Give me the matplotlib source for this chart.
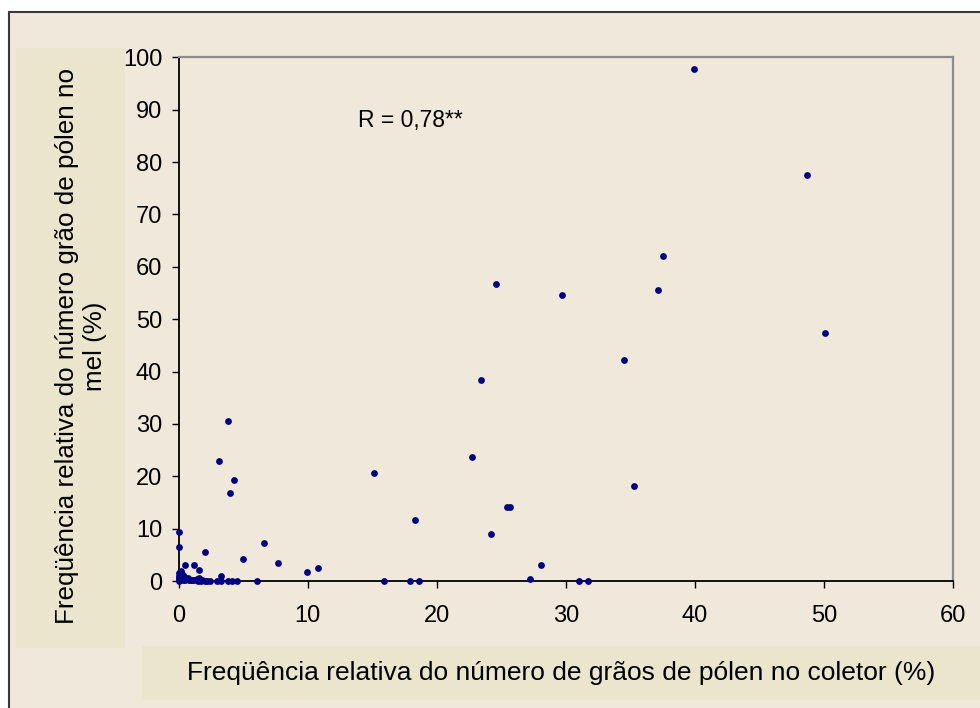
import matplotlib
matplotlib.use("Agg")
import matplotlib.pyplot as plt
from matplotlib.patches import Rectangle

plt.rcParams['font.family'] = ['Liberation Sans', 'DejaVu Sans']

# Relative pollen frequency in the collector (x) and in the honey (y), in %
coletor = [39.95, 48.7, 37.5, 24.6, 29.7, 37.15, 50.1, 34.5, 23.4, 3.8,
           3.1, 22.7, 15.15, 4.3, 35.3, 4.0, 25.4, 25.7, 18.3, 0.0,
           24.2, 6.6, 0.0, 2.05, 5.0, 7.65, 0.5, 1.2, 28.1, 10.8,
           1.55, 9.9, 3.3, 27.2,
           2.93, 3.24, 3.8, 4.15, 4.5, 6.07, 15.9, 17.95, 18.65, 31.0, 31.75,
           0.0, 0.0, 0.0, 0.0, 0.1, 0.15, 0.2, 0.3, 0.4, 0.5,
           0.6, 0.7, 0.8, 0.9, 1.0, 1.2, 1.4, 1.5, 1.6, 1.7,
           1.8, 2.0, 2.2, 2.4, 0.05, 0.1, 0.2, 0.3, 0.5, 0.7]
mel = [97.8, 77.6, 62.1, 56.8, 54.7, 55.6, 47.4, 42.2, 38.4, 30.6,
       22.9, 23.7, 20.6, 19.3, 18.1, 16.8, 14.1, 14.1, 11.6, 9.4,
       9.0, 7.3, 6.4, 5.5, 4.2, 3.4, 3.0, 3.0, 3.0, 2.5,
       2.1, 1.7, 0.9, 0.4,
       0.0, 0.0, 0.0, 0.0, 0.0, 0.0, 0.0, 0.0, 0.0, 0.0, 0.0,
       0.0, 0.5, 1.0, 1.5, 1.8, 2.0, 1.6, 1.2, 0.8, 0.6,
       0.4, 0.3, 0.2, 0.1, 0.2, 0.1, 0.3, 0.0, 0.5, 0.0,
       0.1, 0.0, 0.0, 0.0, 0.3, 0.8, 0.4, 0.1, 0.1, 0.5]

x_ticks = [0, 10, 20, 30, 40, 50, 60]
y_ticks = [0, 10, 20, 30, 40, 50, 60, 70, 80, 90, 100]
correlacao = "R = 0,78**"
rotulo_x = "Freqüência relativa do número de grãos de pólen no coletor (%)"
rotulo_y = "Freqüência relativa do número grão de pólen no\nmel (%)"

BG = '#F0E8DA'
BOX = '#EBE5CE'
W, H = 980, 708

fig = plt.figure(figsize=(9.8, 7.08), dpi=100, facecolor='white')

def px_rect(x0, y0, x1, y1, **kw):
    r = Rectangle((x0 / W, 1 - y1 / H), (x1 - x0) / W, (y1 - y0) / H,
                  transform=fig.transFigure, **kw)
    fig.add_artist(r)
    return r

# chart area frame
px_rect(9, 12, 990, 720, facecolor=BG, edgecolor='#3a3a3a', linewidth=1.5, zorder=0)
# title boxes
px_rect(16, 48, 125, 648, facecolor=BOX, edgecolor='none', zorder=1)
px_rect(142, 646, 985, 700, facecolor=BOX, edgecolor='none', zorder=1)

ax = fig.add_axes([178.8 / W, 1 - 581 / H, (953 - 178.8) / W, (581 - 57.3) / H])
ax.set_facecolor(BG)
ax.scatter(coletor, mel, s=24, color='#000080', marker='o', linewidths=0,
           clip_on=False, zorder=5)

ax.set_xlim(0, 60)
ax.set_ylim(0, 100)
ax.set_xticks(x_ticks)
ax.set_yticks(y_ticks)
ax.tick_params(axis='both', direction='out', length=5, width=1.0, color='black',
               labelsize=17, labelcolor='black')
ax.tick_params(axis='x', pad=12.5)
ax.tick_params(axis='y', pad=7)

for side in ('left', 'bottom'):
    ax.spines[side].set_color('black')
    ax.spines[side].set_linewidth(1.3)
for side in ('top', 'right'):
    ax.spines[side].set_color('#8c8c8c')
    ax.spines[side].set_linewidth(1.6)

ax.text(13.9, 88.0, correlacao, fontsize=16.5, ha='left', va='center', color='black')

fig.text(561.5 / W, 1 - 673 / H, rotulo_x, fontsize=19.0, ha='center', va='center',
         color='black', zorder=3)
fig.text(81 / W, 1 - 346 / H, rotulo_y, fontsize=18.7, ha='center', va='center',
         rotation=90, multialignment='center', linespacing=1.2, color='black', zorder=3)

fig.savefig('out.png', dpi=100, facecolor='white')
